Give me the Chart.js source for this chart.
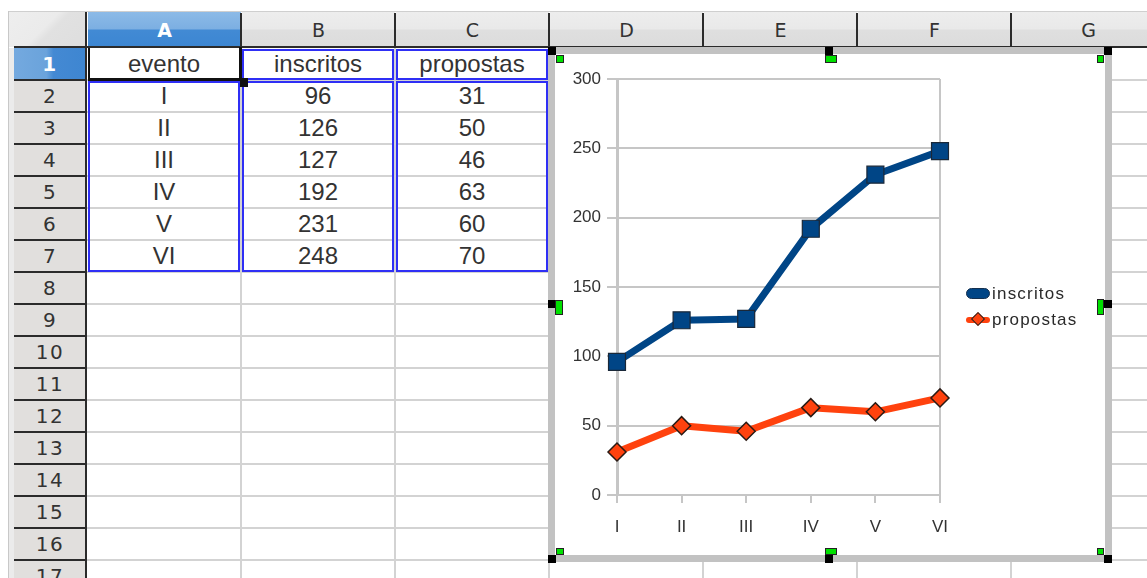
<!DOCTYPE html>
<html>
<head>
<meta charset="utf-8">
<script src="https://cdn.jsdelivr.net/npm/chart.js@4.4.0/dist/chart.umd.min.js"></script>
<style>
html,body{margin:0;padding:0;background:#fff;}
#sheet{position:relative;width:1147px;height:578px;overflow:hidden;background:#fff;font-family:"Liberation Sans",Arial,sans-serif;}
#sheet div{position:absolute;box-sizing:border-box;}
.cell{text-align:center;font-size:24px;color:#333;line-height:32px;white-space:nowrap;}
.hdr{text-align:center;font-family:"DejaVu Sans",sans-serif;color:#333;white-space:nowrap;}
.leg{font-family:"Liberation Sans",Arial,sans-serif;font-size:17px;color:#2a2a2a;letter-spacing:1.2px;white-space:nowrap;}
</style>
</head>
<body>
<div id="sheet"></div>
<script>
// ---- data ----
const categories = ['I', 'II', 'III', 'IV', 'V', 'VI'];
const inscritos = [96, 126, 127, 192, 231, 248];
const propostas = [31, 50, 46, 63, 60, 70];
const seriesNames = ['inscritos', 'propostas'];
const categoryHeader = 'evento';
const columnLetters = ['A', 'B', 'C', 'D', 'E', 'F', 'G'];
const yTicks = [0, 50, 100, 150, 200, 250, 300];

// ---- layout helpers ----
const sheet = document.getElementById('sheet');
function box(x, y, w, h, bg, extra) {
  const d = document.createElement('div');
  d.style.left = x + 'px'; d.style.top = y + 'px';
  d.style.width = w + 'px'; d.style.height = h + 'px';
  if (bg) d.style.background = bg;
  if (extra) Object.assign(d.style, extra);
  sheet.appendChild(d);
  return d;
}
function text(x, y, w, h, t, cls, extra) {
  const d = box(x, y, w, h, null, extra);
  d.className = cls; d.textContent = t;
  return d;
}
const colX = [87, 241, 395, 549, 703, 857, 1011, 1165];
const rowTop = k => 48 + 32 * (k - 1);

// frame edges
box(8, 11, 1139, 1, '#cfcfcf');
box(8, 11, 1, 567, '#c8c8c8');
// corner
box(9, 12, 77, 35, 'linear-gradient(135deg,#eeeeee 0%,#ebebeb 45%,#e1e1e1 55%,#dedede 100%)');
// column headers
for (let i = 0; i < 7; i++) {
  const x = colX[i] + 1, w = colX[i + 1] - colX[i] - 1;
  const sel = i === 0;
  box(x, 12, w, 35, sel
    ? 'linear-gradient(#8cbae7 0%,#7cafe2 48%,#428ad4 52%,#3c86d2 100%)'
    : 'linear-gradient(#ededed 0%,#e9e9e9 48%,#dfdfdf 52%,#dcdcdc 100%)');
  text(x, 12, w, 35, columnLetters[i], 'hdr', {fontSize: '19px', lineHeight: '37px',
    color: sel ? '#fff' : '#333', fontWeight: sel ? 'bold' : 'normal'});
}
// header separators
for (let i = 1; i < 7; i++) box(colX[i] - 1, 13, 2, 34, '#2b2b2b');
// row header area
box(9, 48, 5, 530, '#ebebeb');
for (let k = 1; k <= 17; k++) {
  const y = rowTop(k);
  const sel = k === 1;
  box(14, y, 72, 32, sel
    ? 'linear-gradient(90deg,#74a9df 0%,#6aa3db 45%,#4489d3 55%,#3e86d1 100%)'
    : '#e1dfdd');
  text(14, y, 72, 32, String(k), 'hdr', {fontSize: '20px', lineHeight: '32px', letterSpacing: '1.5px',
    color: sel ? '#fff' : '#333', fontWeight: sel ? 'bold' : 'normal'});
}
for (let k = 1; k <= 17; k++) box(14, rowTop(k) + 31, 72, 2, '#2b2b2b');
box(14, 46, 1133, 2, '#2b2b2b');
box(85, 12, 2, 566, '#2b2b2b');

// cell grid
for (let k = 1; k <= 17; k++) box(87, rowTop(k) + 31, 1060, 2, '#d3d3d3');
for (let i = 1; i < 7; i++) box(colX[i] - 1, 48, 2, 530, '#d3d3d3');

// cell contents
function cell(col, row, t) {
  text(colX[col], rowTop(row), colX[col + 1] - colX[col], 32, t, 'cell');
}
cell(0, 1, categoryHeader);
cell(1, 1, seriesNames[0]);
cell(2, 1, seriesNames[1]);
categories.forEach((c, i) => {
  cell(0, i + 2, c);
  cell(1, i + 2, String(inscritos[i]));
  cell(2, i + 2, String(propostas[i]));
});

// blue range highlights
const BLUE_SEL = '#2f2ff5';
function range(c, r1, r2) {
  box(colX[c] + 1, rowTop(r1) + 1, colX[c + 1] - colX[c] - 2, rowTop(r2 + 1) - rowTop(r1) - 1, null,
    {border: '2px solid ' + BLUE_SEL});
}
range(1, 1, 1); range(2, 1, 1);
range(0, 2, 7); range(1, 2, 7); range(2, 2, 7);

// cell cursor A1
box(88, 48, 2, 32, '#111');
box(239, 47, 3, 34, '#111');
box(88, 78, 154, 3, '#111');
box(240, 78, 8, 9, '#111');

// chart object frame
box(548, 47, 564, 515, '#fff', {border: '7px solid #c2c2c2'});
const cwrap = box(555, 54, 550, 501, null);
const canvas = document.createElement('canvas');
canvas.width = 550; canvas.height = 501;
canvas.style.width = '550px'; canvas.style.height = '501px';
cwrap.appendChild(canvas);

// handles
[[548,47],[825,47],[1104,47],[548,300],[1104,300],[548,555],[825,555],[1104,555]]
  .forEach(p => box(p[0], p[1], 8, 8, '#000'));
const G = {border: '1px solid #222'};
box(556, 55, 8, 8, '#00e000', G);
box(825, 55, 12, 8, '#00e000', G);
box(1097, 55, 7, 8, '#00e000', G);
box(555, 300, 8, 15, '#00e000', G);
box(1097, 299, 7, 16, '#00e000', G);
box(556, 548, 8, 7, '#00e000', G);
box(825, 548, 12, 7, '#00e000', G);
box(1097, 548, 7, 7, '#00e000', G);

// legend (HTML)
const C_BLUE = '#004586', C_ORANGE = '#ff420e';
box(966, 288, 24, 11, C_BLUE, {borderRadius: '6px', border: '1px solid #15304f'});
text(992, 283, 110, 22, seriesNames[0], 'leg', {lineHeight: '22px'});
box(966, 317, 24, 6, C_ORANGE, {borderRadius: '3px'});
box(973, 314, 10, 10, C_ORANGE, {transform: 'rotate(45deg)', border: '1px solid #222'});
text(992, 309, 110, 22, seriesNames[1], 'leg', {lineHeight: '22px'});

// ---- chart ----
const GRID = '#c6c6c6';
const FONT = {family: '"Liberation Sans", Arial, sans-serif', size: 17};
new Chart(canvas.getContext('2d'), {
  type: 'line',
  data: {
    labels: categories,
    datasets: [
      {label: seriesNames[0], data: inscritos, borderColor: C_BLUE, backgroundColor: C_BLUE,
       borderWidth: 7, tension: 0, clip: false, borderJoinStyle: 'round',
       pointStyle: 'rect', pointRadius: 12, pointHoverRadius: 12,
       pointBackgroundColor: C_BLUE, pointBorderColor: '#1a2838', pointBorderWidth: 1.2},
      {label: seriesNames[1], data: propostas, borderColor: C_ORANGE, backgroundColor: C_ORANGE,
       borderWidth: 7, tension: 0, clip: false, borderJoinStyle: 'round',
       pointStyle: 'rectRot', pointRadius: 9, pointHoverRadius: 9,
       pointBackgroundColor: C_ORANGE, pointBorderColor: '#2a1a14', pointBorderWidth: 1.5}
    ]
  },
  options: {
    responsive: false, animation: false, devicePixelRatio: 1,
    layout: {padding: {top: 25, right: 165, left: 0, bottom: 0}},
    plugins: {legend: {display: false}, tooltip: {enabled: false}},
    events: [],
    scales: {
      x: {
        offset: false,
        grid: {color: c => c.index === categories.length - 1 ? GRID : 'rgba(0,0,0,0)',
               tickColor: GRID, tickLength: 8, lineWidth: 2},
        border: {color: GRID, width: 2},
        ticks: {color: '#333', font: FONT, padding: 14, maxRotation: 0},
        afterFit: s => { s.height = 60; }
      },
      y: {
        min: yTicks[0], max: yTicks[yTicks.length - 1],
        afterBuildTicks: s => { s.ticks = yTicks.map(v => ({value: v})); },
        grid: {color: GRID, lineWidth: 2, tickLength: 10},
        border: {color: GRID, width: 3},
        ticks: {color: '#333', font: FONT, padding: 6},
        afterFit: s => { s.width = 62; }
      }
    }
  }
});
</script>
</body>
</html>
